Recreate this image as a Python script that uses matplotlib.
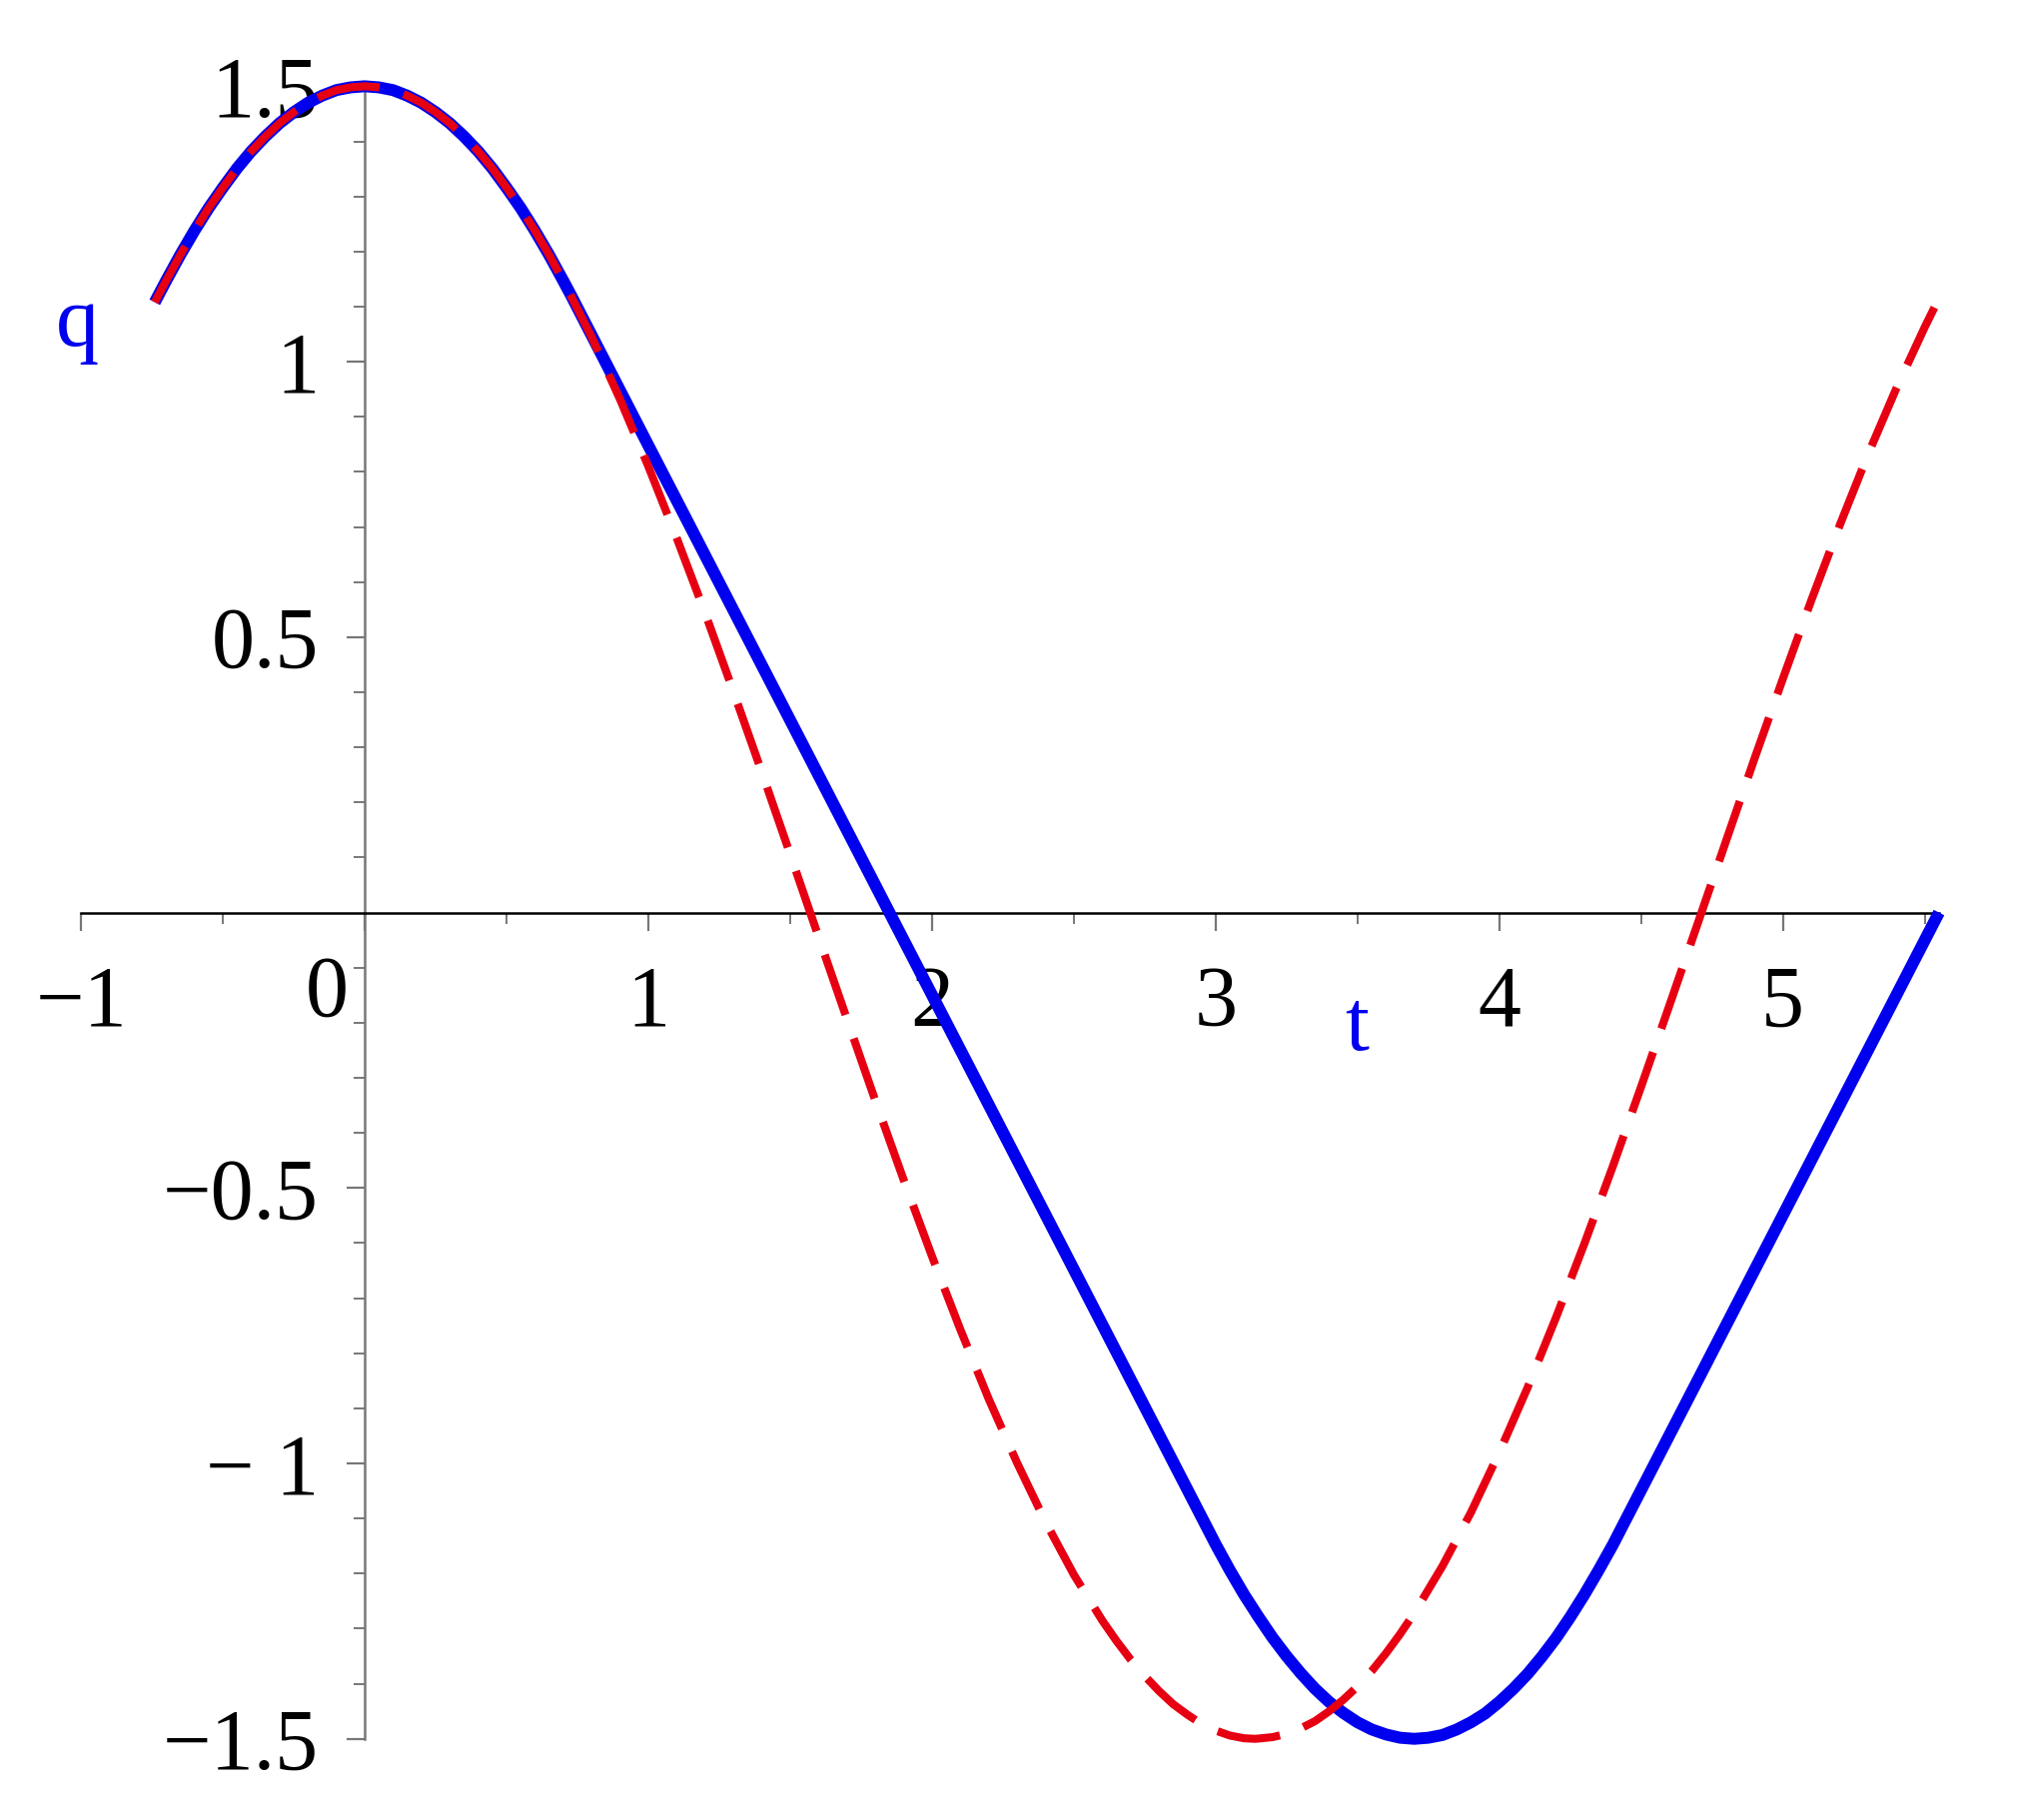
import matplotlib
matplotlib.use("Agg")
import matplotlib.pyplot as plt
import matplotlib.transforms as mtransforms

# red dashed curve
t_red = [-0.74, -0.7, -0.65, -0.6, -0.55, -0.5, -0.45, -0.4, -0.35, -0.3, -0.25, -0.2, -0.15,
         -0.1, -0.05, 0.0, 0.05, 0.1, 0.15, 0.2, 0.25, 0.3, 0.35, 0.4, 0.45, 0.5, 0.55, 0.6,
         0.65, 0.7, 0.8, 0.9, 1.0, 1.1, 1.2, 1.3, 1.4, 1.5, 1.6, 1.7, 1.8, 1.9, 2.0, 2.1, 2.2,
         2.3, 2.4, 2.5, 2.6, 2.65, 2.7, 2.75, 2.8, 2.85, 2.9, 2.95, 3.0, 3.05, 3.1, 3.14, 3.2,
         3.25, 3.3, 3.35, 3.4, 3.45, 3.5, 3.55, 3.6, 3.65, 3.7, 3.8, 3.9, 4.0, 4.1, 4.2, 4.3,
         4.4, 4.5, 4.6, 4.7, 4.8, 4.9, 5.0, 5.1, 5.2, 5.3, 5.4, 5.5, 5.55]
q_red = [1.108, 1.147, 1.194, 1.238, 1.279, 1.316, 1.351, 1.382, 1.409, 1.433, 1.453, 1.470,
         1.483, 1.493, 1.498, 1.500, 1.498, 1.493, 1.483, 1.470, 1.453, 1.433, 1.409, 1.382,
         1.351, 1.316, 1.279, 1.238, 1.194, 1.147, 1.045, 0.932, 0.810, 0.680, 0.544, 0.401,
         0.255, 0.106, -0.044, -0.193, -0.341, -0.485, -0.624, -0.757, -0.883, -0.999, -1.106,
         -1.202, -1.285, -1.322, -1.356, -1.386, -1.413, -1.437, -1.456, -1.473, -1.485, -1.494,
         -1.499, -1.500, -1.497, -1.491, -1.481, -1.468, -1.450, -1.429, -1.405, -1.377, -1.345,
         -1.310, -1.272, -1.186, -1.089, -0.980, -0.862, -0.735, -0.601, -0.461, -0.316, -0.168,
         -0.019, 0.131, 0.280, 0.425, 0.567, 0.703, 0.832, 0.952, 1.063, 1.115]

# blue solid curve
t_blue = [-0.74, -0.7, -0.65, -0.6, -0.55, -0.5, -0.45, -0.4, -0.35, -0.3, -0.25, -0.2, -0.15,
          -0.1, -0.05, 0.0, 0.05, 0.1, 0.15, 0.2, 0.25, 0.3, 0.35, 0.4, 0.45, 0.5, 0.55, 0.6,
          0.65, 0.7, 0.728, 1.0, 1.85, 2.5, 2.973, 3.0, 3.05, 3.1, 3.15, 3.2, 3.25, 3.3, 3.35,
          3.4, 3.45, 3.5, 3.55, 3.6, 3.65, 3.7, 3.75, 3.8, 3.85, 3.9, 3.95, 4.0, 4.05, 4.1,
          4.15, 4.2, 4.25, 4.3, 4.35, 4.4, 4.428, 5.0, 5.55]
q_blue = [1.108, 1.147, 1.194, 1.238, 1.279, 1.316, 1.351, 1.382, 1.409, 1.433, 1.453, 1.470,
          1.483, 1.493, 1.498, 1.500, 1.498, 1.493, 1.483, 1.470, 1.453, 1.433, 1.409, 1.382,
          1.351, 1.316, 1.279, 1.238, 1.194, 1.147, 1.120, 0.848, 0.0, -0.648, -1.120, -1.147,
          -1.194, -1.238, -1.278, -1.316, -1.350, -1.381, -1.409, -1.433, -1.453, -1.470,
          -1.483, -1.492, -1.498, -1.500, -1.498, -1.493, -1.483, -1.470, -1.454, -1.433,
          -1.409, -1.382, -1.351, -1.317, -1.279, -1.238, -1.194, -1.148, -1.120, -0.549, 0.0]

x_ticks = [-1, 0, 1, 2, 3, 4, 5]
x_labels = ["\u22121", "0", "1", "2", "3", "4", "5"]
x_minor = [-0.5, 0.5, 1.5, 2.5, 3.5, 4.5, 5.5]
y_ticks = [-1.5, -1, -0.5, 0.5, 1, 1.5]
y_labels = ["\u22121.5", "\u2212 1", "\u22120.5", "0.5", "1", "1.5"]
y_minor = [-1.4, -1.3, -1.2, -1.1, -0.9, -0.8, -0.7, -0.6, -0.4, -0.3, -0.2, -0.1,
           0.1, 0.2, 0.3, 0.4, 0.6, 0.7, 0.8, 0.9, 1.1, 1.2, 1.3, 1.4]

plt.rcParams['font.family'] = ['Liberation Serif', 'DejaVu Serif']

fig = plt.figure(figsize=(20.22, 18.22), dpi=100)
ax = fig.add_axes([0.0401, 0.0446, 0.9198, 0.908])

ax.plot(t_blue, q_blue, color='#0000ee', lw=8.6, solid_capstyle='butt',
        solid_joinstyle='round', clip_on=False, zorder=3)
ax.plot(t_red, q_red, color='#e60012', lw=5.8, dashes=(7.9, 3.1),
        dash_joinstyle='round', clip_on=False, zorder=4)

ax.set_xlim(-1, 5.55)
ax.set_ylim(-1.5, 1.5)

for s in ['top', 'right']:
    ax.spines[s].set_visible(False)
ax.spines['left'].set_position(('data', 0))
ax.spines['bottom'].set_position(('data', 0))
ax.spines['left'].set_color('#777777')
ax.spines['left'].set_linewidth(1.8)
ax.spines['bottom'].set_color('black')
ax.spines['bottom'].set_linewidth(1.8)

ax.set_xticks(x_ticks, x_labels)
ax.set_xticks(x_minor, minor=True)
ax.set_yticks(y_ticks, y_labels)
ax.set_yticks(y_minor, minor=True)

ax.tick_params(axis='both', which='major', direction='out', length=13, width=1.6,
               color='#777777', labelsize=62)
ax.tick_params(axis='both', which='minor', direction='out', length=8, width=1.4,
               color='#777777')
ax.tick_params(axis='x', which='major', pad=25)
ax.tick_params(axis='y', which='major', pad=20)

# origin label sits left of the vertical axis
for lab in ax.get_xticklabels():
    if lab.get_text() == "0":
        off = mtransforms.ScaledTranslation(-0.38, 0.10, fig.dpi_scale_trans)
        lab.set_transform(lab.get_transform() + off)

ax.text(-1.013, 1.03, "q", color='#0000ee', fontsize=62, ha='center', va='baseline')
ax.text(3.497, -0.25, "t", color='#0000ee', fontsize=62, ha='center', va='baseline')

fig.savefig("out.png", dpi=100, facecolor='white')
